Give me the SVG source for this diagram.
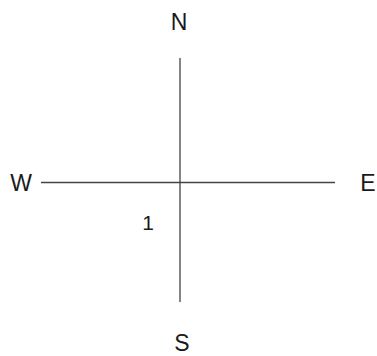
<svg xmlns="http://www.w3.org/2000/svg" width="377" height="356" viewBox="0 0 377 356">
<style>
.lbl{font-family:"Liberation Sans",Arial,sans-serif;font-size:23px;fill:#1a1a1a;text-anchor:middle}
.ax{stroke:#444;stroke-width:1.3;fill:none}
</style>
<rect width="377" height="356" fill="#fff"/>
<g id="connectors">
<line class="ax" x1="180" y1="58" x2="180" y2="302"/>
<line class="ax" x1="41" y1="182.5" x2="335" y2="182.5"/>
</g>
<g id="N"><text class="lbl" x="179" y="30">N</text></g>
<g id="W"><text class="lbl" x="21" y="191">W</text></g>
<g id="E"><text class="lbl" x="368" y="191">E</text></g>
<g id="S"><text class="lbl" x="182" y="351">S</text></g>
<g id="one"><text class="lbl" x="148" y="230" style="font-size:21px">1</text></g>
</svg>
